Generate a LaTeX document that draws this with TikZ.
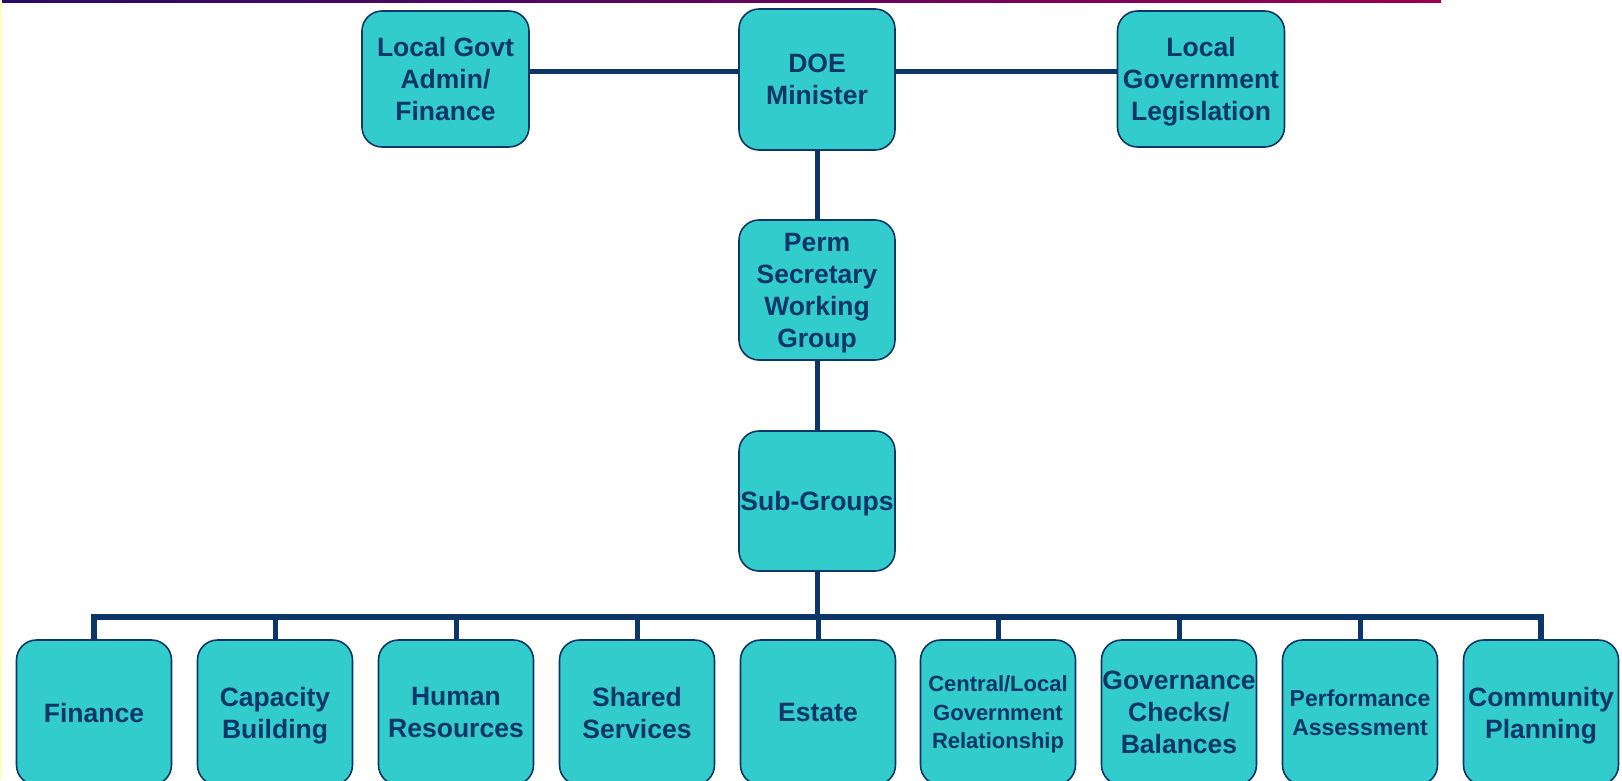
\documentclass[tikz,border=0pt]{standalone}
\usepackage{fontspec}
\setmainfont{Liberation Sans}
\usetikzlibrary{backgrounds}
\definecolor{navy}{HTML}{0D3668}
\definecolor{boxfill}{HTML}{33CCCC}
\definecolor{lineL}{HTML}{2A0A6A}
\definecolor{lineR}{HTML}{990050}
\begin{document}
\begin{tikzpicture}[x=1pt,y=-1pt,
  box/.style={draw=navy, line width=1.6pt, fill=boxfill, rounded corners=20pt,
    font=\bfseries\fontsize{26.5}{32}\selectfont, text=navy, align=center,
    inner sep=0pt, text depth=0pt},
  topbox/.style={box, minimum width=167pt, minimum height=136pt},
  midbox/.style={box, minimum width=156pt, minimum height=140pt},
  botbox/.style={box, minimum width=155pt, minimum height=145pt},
  smallA/.style={font=\bfseries\fontsize{22}{28.5}\selectfont},
  smallB/.style={font=\bfseries\fontsize{23}{28.5}\selectfont},
  conn/.style={draw=navy, line width=5pt},
  busline/.style={draw=navy, line width=6pt, line join=miter}
]
\useasboundingbox (0,0) rectangle (1622,780);
\shade[left color=lineL, right color=lineR] (0,0) rectangle (1441,2);
\fill[yellow!25] (0,0) rectangle (1.5,780);

% top row
\node[topbox] (lg) at (445.5,79) {Local Govt\\Admin/\\Finance};
\node[midbox, minimum height=141pt] (doe) at (817,79.5) {DOE\\Minister};
\node[topbox] (leg) at (1201,79) {Local\\Government\\Legislation};
\node[midbox] (perm) at (817,290) {Perm\\Secretary\\Working\\Group};
\node[midbox] (sub) at (817,501) {Sub-Groups};

% bottom row
\node[botbox] (f1) at (94,712.5) {Finance};
\node[botbox] (f2) at (275,712.5) {Capacity\\Building};
\node[botbox] (f3) at (456,712.5) {Human\\Resources};
\node[botbox] (f4) at (637,712.5) {Shared\\Services};
\node[botbox] (f5) at (818,712.5) {Estate};
\node[botbox, smallA] (f6) at (998,712.5) {Central/Local\\Government\\Relationship};
\node[botbox] (f7) at (1179,712.5) {Governance\\Checks/\\Balances};
\node[botbox, smallB] (f8) at (1360,712.5) {Performance\\Assessment};
\node[botbox] (f9) at (1541,712.5) {Community\\Planning};

\coordinate (hl) at (0,71);
\coordinate (bar) at (817,617);

\begin{scope}[on background layer]
  \draw[conn] (lg.east |- hl) -- (doe.west |- hl);
  \draw[conn] (doe.east |- hl) -- (leg.west |- hl);
  \draw[conn] (doe.south) -- (perm.north);
  \draw[conn] (perm.south) -- (sub.north);
  \draw[conn] (sub.south) -- (sub.south |- bar);
  \draw[busline] (f1.north) |- (f9.north |- bar) -- (f9.north);
  \foreach \i in {2,...,8} {
    \draw[conn] (f\i.north) -- (f\i.north |- bar);
  }
\end{scope}
\end{tikzpicture}
\end{document}
